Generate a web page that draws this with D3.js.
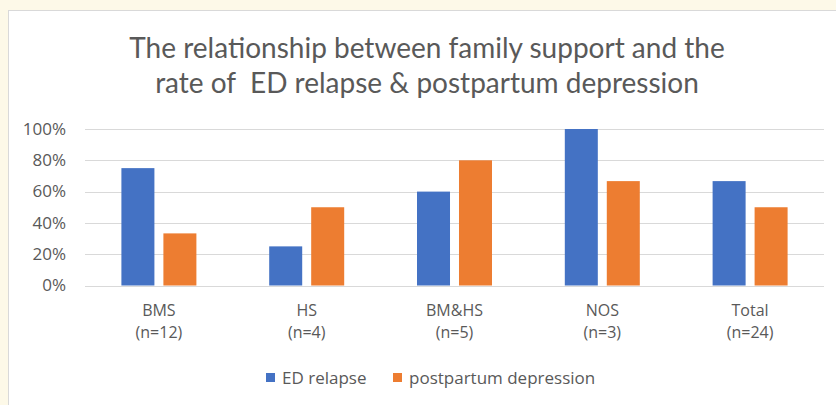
<!DOCTYPE html>
<html><head><meta charset="utf-8">
<script src="https://cdn.jsdelivr.net/npm/d3@7"></script>
<style>
html,body{margin:0;padding:0;background:#fdf9e8;}
svg{display:block;}
</style></head>
<body>
<svg id="chart" width="836" height="405"></svg>
<script>
const categories = ["BMS", "HS", "BM&HS", "NOS", "Total"];
const categoryN = ["(n=12)", "(n=4)", "(n=5)", "(n=3)", "(n=24)"];
const seriesNames = ["ED relapse", "postpartum depression"];
const edRelapse = [0.75, 0.25, 0.60, 1.00, 0.667];
const postpartum = [0.333, 0.50, 0.80, 0.667, 0.50];
const yTicks = [0, 0.2, 0.4, 0.6, 0.8, 1.0];
const titleLines = ["The relationship between family support and the", "rate of  ED relapse & postpartum depression"];
const colors = ["#4472C4", "#ED7D31"];

const svg = d3.select("#chart");
const titleFont = "Lato, 'Open Sans', sans-serif";
const font = "'Open Sans', Lato, sans-serif";

// chart area box
svg.append("rect").attr("x", 8.5).attr("y", 10.5).attr("width", 840).attr("height", 400)
  .attr("fill", "#ffffff").attr("stroke", "#d9d9d9").attr("stroke-width", 1);

// title
const title = svg.append("text").attr("text-anchor", "middle").attr("fill", "#595959")
  .attr("xml:space", "preserve")
  .style("font-family", titleFont).style("font-size", "28px");
titleLines.forEach((t, i) => {
  title.append("tspan").attr("x", 427).attr("y", 58 + i * 35).text(t);
});

const x0 = d3.scaleBand().domain(categories).range([85, 824]).paddingInner(0).paddingOuter(0);
const x1 = d3.scaleBand().domain(seriesNames).range([0, x0.bandwidth()]).paddingInner(0.214).paddingOuter(0.867);
const y = d3.scaleLinear().domain([0, 1]).range([285.5, 129]);

// gridlines
svg.append("g").selectAll("line").data(yTicks).join("line")
  .attr("x1", 85).attr("x2", 824)
  .attr("y1", d => Math.round(y(d)) + 0.5).attr("y2", d => Math.round(y(d)) + 0.5)
  .attr("stroke", "#d9d9d9").attr("stroke-width", 1);

// y axis labels
const yAxis = d3.axisLeft(y).tickValues(yTicks).tickFormat(d3.format(".0%")).tickSize(0).tickPadding(0);
const yg = svg.append("g").attr("transform", "translate(66,0)").call(yAxis);
yg.select(".domain").remove();
yg.selectAll("text").attr("fill", "#595959").attr("dy", "0.3em").style("font-family", font).style("font-size", "17px");

// bars
const data = categories.map((c, i) => ({cat: c, vals: [edRelapse[i], postpartum[i]]}));
const groups = svg.append("g").selectAll("g").data(data).join("g")
  .attr("transform", d => `translate(${x0(d.cat)},0)`);
groups.selectAll("rect").data(d => d.vals.map((v, j) => ({v, s: seriesNames[j], j})))
  .join("rect")
  .attr("x", d => x1(d.s)).attr("width", x1.bandwidth())
  .attr("y", d => y(d.v)).attr("height", d => y(0) - y(d.v))
  .attr("fill", d => colors[d.j]);

// x labels
const xl = svg.append("g");
categories.forEach((c, i) => {
  const cx = x0(c) + x0.bandwidth() / 2;
  const t = xl.append("text").attr("text-anchor", "middle").attr("fill", "#595959")
    .style("font-family", font).style("font-size", "16px");
  t.append("tspan").attr("x", cx).attr("y", 316).text(c);
  t.append("tspan").attr("x", cx).attr("y", 338).text(categoryN[i]);
});

// legend
const legendX = [266, 393];
seriesNames.forEach((s, i) => {
  svg.append("rect").attr("x", legendX[i]).attr("y", 373).attr("width", 9).attr("height", 9).attr("fill", colors[i]);
  svg.append("text").attr("x", legendX[i] + 16).attr("y", 384).attr("fill", "#595959")
    .style("font-family", font).style("font-size", "17px").text(s);
});
</script>
</body></html>
